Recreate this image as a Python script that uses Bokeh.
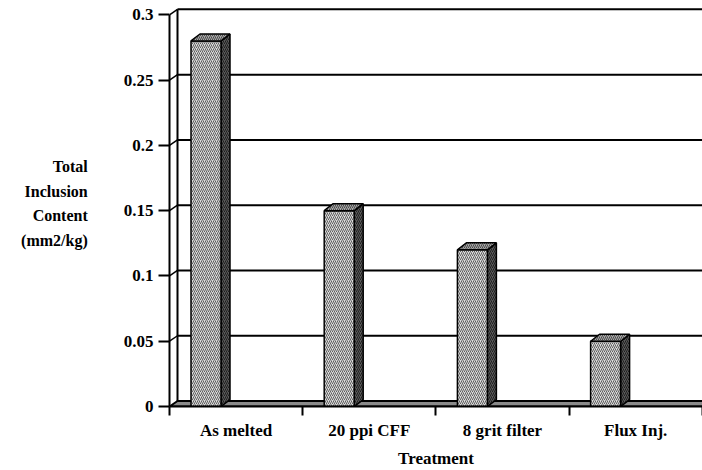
from bokeh.plotting import figure
from bokeh.models import FixedTicker, Range1d
from bokeh.embed import file_html
from bokeh.resources import INLINE

# ---- data ----
categories = ["As melted", "20 ppi CFF", "8 grit filter", "Flux Inj."]
values = [0.28, 0.15, 0.12, 0.05]
y_ticks = [0, 0.05, 0.1, 0.15, 0.2, 0.25, 0.3]
y_tick_labels = ["0", "0.05", "0.1", "0.15", "0.2", "0.25", "0.3"]
x_title = "Treatment"
y_title = "Total\nInclusion\nContent\n(mm2/kg)"

# ---- geometry (pixel -> data conversions) ----
W, H = 702, 470
LEFT, BOTTOM = 169, 62
PX_X = 133.2          # px per category
PX_Y = 1312.0         # px per unit of y
X_END = (W - LEFT) / PX_X
Y_END = (H - BOTTOM) / PX_Y
DXW, DYW = 8 / PX_X, 5.5 / PX_Y     # back-wall depth
DXB, DYB = 9 / PX_X, 7 / PX_Y       # bar depth
BAR_OFF, BAR_W = 21.5 / PX_X, 30 / PX_X
FAR = 6.0

FONT = "Liberation Serif"

p = figure(width=W, height=H, output_backend="svg", toolbar_location=None,
           x_range=Range1d(0, X_END), y_range=Range1d(0, Y_END),
           min_border_left=LEFT, min_border_right=0, min_border_top=0,
           min_border_bottom=BOTTOM, outline_line_color=None,
           background_fill_color="white", border_fill_color="white")
p.xgrid.visible = False
p.ygrid.visible = False

# floor
p.patch([0, FAR, FAR + DXW, DXW], [0, 0, DYW, DYW], fill_color="#8a8a8a",
        line_color="black", line_width=2)

# back wall gridlines + connectors
grid_v = [v for v in y_ticks if v > 0]
p.segment(x0=[DXW] * len(grid_v), y0=[v + DYW for v in grid_v],
          x1=[FAR] * len(grid_v), y1=[v + DYW for v in grid_v],
          line_color="black", line_width=2)
p.segment(x0=[0] * len(grid_v), y0=grid_v,
          x1=[DXW] * len(grid_v), y1=[v + DYW for v in grid_v],
          line_color="black", line_width=1.5)
p.segment(x0=[DXW], y0=[DYW], x1=[DXW], y1=[max(y_ticks) + DYW],
          line_color="black", line_width=2)

# bars
lefts = [i + BAR_OFF for i in range(len(values))]
rights = [l + BAR_W for l in lefts]
side_xs, side_ys, top_xs, top_ys = [], [], [], []
for l, r, v in zip(lefts, rights, values):
    side_xs.append([r, r + DXB, r + DXB, r])
    side_ys.append([0, DYB, v + DYB, v])
    top_xs.append([l, r, r + DXB, l + DXB])
    top_ys.append([v, v, v + DYB, v + DYB])

p.patches(side_xs, side_ys, fill_color="#5a5a5a", hatch_pattern="/",
          hatch_color="#1e1e1e", hatch_scale=4, hatch_weight=1,
          line_color="black", line_width=1.5)
p.quad(left=lefts, right=rights, bottom=[0] * len(values), top=values,
       fill_color="#dadada", hatch_pattern="/", hatch_color="#5e5e5e",
       hatch_scale=4, hatch_weight=1, line_color="black", line_width=1.5)
p.patches(top_xs, top_ys, fill_color="#a8a8a8", hatch_pattern="/",
          hatch_color="#4a4a4a", hatch_scale=4, hatch_weight=1,
          line_color="black", line_width=1.5)

# x axis
xa = p.xaxis[0]
xa.ticker = FixedTicker(ticks=[i + 0.5 for i in range(len(categories))],
                        minor_ticks=list(range(len(categories) + 1)))
xa.major_label_overrides = {i + 0.5: c for i, c in enumerate(categories)}
xa.major_tick_out = 0
xa.major_tick_in = 0
xa.minor_tick_out = 9
xa.minor_tick_in = 0
xa.minor_tick_line_color = "black"
xa.minor_tick_line_width = 2
xa.axis_line_color = "black"
xa.axis_line_width = 2
xa.major_label_standoff = 5
xa.major_label_text_font = FONT
xa.major_label_text_font_style = "bold"
xa.major_label_text_font_size = "17px"
xa.major_label_text_color = "black"
xa.axis_label = x_title
xa.axis_label_standoff = 6
xa.axis_label_text_font = FONT
xa.axis_label_text_font_style = "bold"
xa.axis_label_text_font_size = "17px"
xa.axis_label_text_color = "black"

# y axis
ya = p.yaxis[0]
ya.ticker = FixedTicker(ticks=y_ticks, minor_ticks=[])
ya.major_label_overrides = {t: s for t, s in zip(y_ticks, y_tick_labels)}
ya.bounds = (0, max(y_ticks))
ya.major_tick_out = 11
ya.major_tick_in = 0
ya.major_tick_line_width = 2
ya.major_tick_line_color = "black"
ya.minor_tick_out = 0
ya.minor_tick_in = 0
ya.axis_line_color = "black"
ya.axis_line_width = 2
ya.major_label_standoff = 5
ya.major_label_text_font = FONT
ya.major_label_text_font_style = "bold"
ya.major_label_text_font_size = "17px"
ya.major_label_text_color = "black"
ya.axis_label = y_title
ya.axis_label_orientation = "horizontal"
ya.axis_label_standoff = 33
ya.axis_label_text_align = "center"
ya.axis_label_text_line_height = 1.45
ya.axis_label_text_font = FONT
ya.axis_label_text_font_style = "bold"
ya.axis_label_text_font_size = "16px"
ya.axis_label_text_color = "black"

open("out.html", "w").write(file_html(p, INLINE))
